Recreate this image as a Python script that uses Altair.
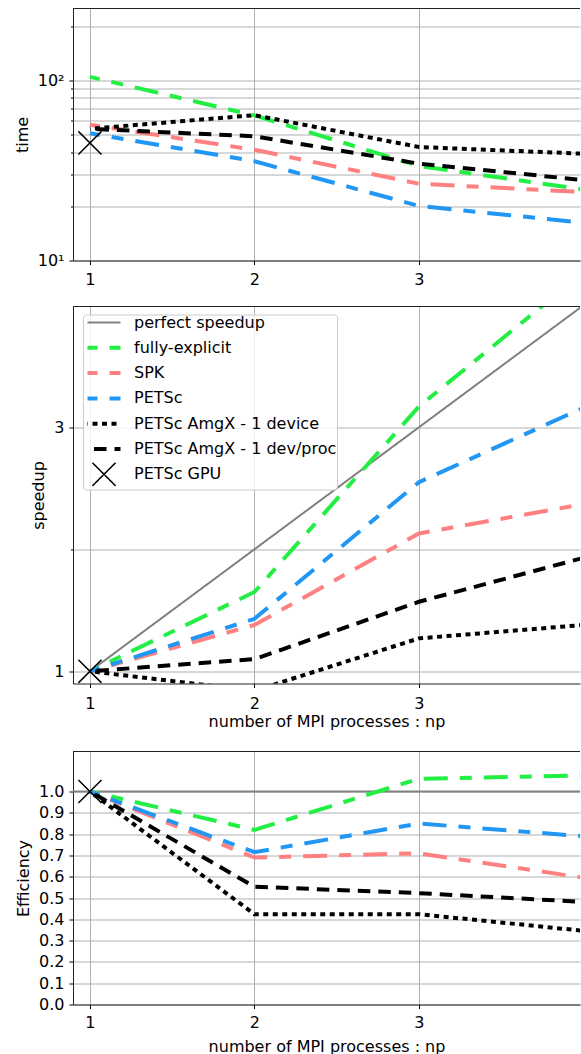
import altair as alt
import pandas as pd

# ---------------- data ----------------
np_vals = [1, 2, 3, 4]
series_names = ["perfect speedup", "fully-explicit", "SPK", "PETSc",
                "PETSc AmgX - 1 device", "PETSc AmgX - 1 dev/proc", "PETSc GPU"]
line_series = series_names[1:6]
series_colors = ["#808080", "#22ee44", "#ff8080", "#2196f3", "#000000", "#000000", "#000000"]

time_fully_explicit = [104.8, 64.0, 33.5, 24.8]
time_spk = [56.8, 41.2, 26.7, 24.0]
time_petsc = [50.9, 35.6, 20.1, 16.2]
time_amgx_device = [53.9, 64.2, 42.7, 39.2]
time_amgx_devproc = [53.9, 49.0, 34.5, 28.0]

speedup_fully_explicit = [1.0, 1.65, 3.17, 4.27]
speedup_spk = [1.0, 1.38, 2.13, 2.37]
speedup_petsc = [1.0, 1.43, 2.55, 3.16]
speedup_amgx_device = [1.0, 0.84, 1.27, 1.38]
speedup_amgx_devproc = [1.0, 1.10, 1.57, 1.93]
perfect_speedup = [1, 2, 3, 4]

eff_fully_explicit = [1.0, 0.82, 1.06, 1.075]
eff_spk = [1.0, 0.69, 0.71, 0.595]
eff_petsc = [1.0, 0.715, 0.85, 0.79]
eff_amgx_device = [1.0, 0.424, 0.424, 0.346]
eff_amgx_devproc = [1.0, 0.553, 0.523, 0.482]
eff_reference = [1.0]

gpu_np = [1]
time_gpu = [45.0]
speedup_gpu = [1.0]
eff_gpu = [1.0]

x_ticks = [1, 2, 3]
time_ticks = [10, 20, 30, 40, 50, 60, 70, 80, 90, 100, 200]
speedup_ticks = [1, 2, 3]
eff_ticks = [0.0, 0.1, 0.2, 0.3, 0.4, 0.5, 0.6, 0.7, 0.8, 0.9, 1.0]

# ---------------- styles ----------------
colored_dash = [24, 12, 12, 12]
series_dashes = [[1, 0], colored_dash, colored_dash, colored_dash, [5, 4.5], [12.5, 8], [1, 0]]
# legend glyphs: a horizontal stroke (with invisible zero-length points that only even out row heights)
thin_line_shape = "M-1,0L1,0M0,-0.639L0,-0.639M0,0.639L0,0.639"
thick_line_shape = "M-1,0L1,0M0,-0.397L0,-0.397M0,0.397L0,0.397"
x_shape = "M-0.7,-0.7L0.7,0.7M-0.7,0.7L0.7,-0.7"
series_shapes = [thin_line_shape] + [thick_line_shape] * 5 + [x_shape]
SYM_SIZE = 1089
FONT = "DejaVu Sans"
FS = 16
FRAME = "#222222"


def long_df(arrays):
    rows = []
    for name, vals in zip(line_series, arrays):
        for n, v in zip(np_vals, vals):
            rows.append({"series": name, "np": n, "value": v})
    return pd.DataFrame(rows)


def gpu_df(vals):
    return pd.DataFrame({"series": ["PETSc GPU"] * len(gpu_np), "np": gpu_np, "value": vals})


time_df = long_df([time_fully_explicit, time_spk, time_petsc, time_amgx_device, time_amgx_devproc])
speed_df = long_df([speedup_fully_explicit, speedup_spk, speedup_petsc,
                    speedup_amgx_device, speedup_amgx_devproc])
eff_df = long_df([eff_fully_explicit, eff_spk, eff_petsc, eff_amgx_device, eff_amgx_devproc])
perfect_df = pd.DataFrame({"series": ["perfect speedup"] * 4, "np": np_vals, "value": perfect_speedup})
ref_df = pd.DataFrame({"value": eff_reference})

PX_PER_UNIT = 164.5
WIDTH = 507
XDOM = [0.897, 0.897 + WIDTH / PX_PER_UNIT]


def x_enc(title, label_pad, title_pad):
    if title is None:
        ax = alt.Axis(values=x_ticks, format="d", title=None, labelPadding=label_pad)
    else:
        ax = alt.Axis(values=x_ticks, format="d", title=title, labelPadding=label_pad,
                      titlePadding=title_pad)
    return alt.X("np:Q", scale=alt.Scale(domain=XDOM, nice=False, zero=False), axis=ax)


def color_enc(legend):
    return alt.Color("series:N", scale=alt.Scale(domain=series_names, range=series_colors), legend=legend)


def dash_enc(legend):
    return alt.StrokeDash("series:N", scale=alt.Scale(domain=series_names, range=series_dashes), legend=legend)


def shape_enc(legend):
    return alt.Shape("series:N", scale=alt.Scale(domain=series_names, range=series_shapes), legend=legend)


def frame_top(extra_top=0.0):
    layers = [alt.Chart(ref_df).mark_rule(color=FRAME, strokeWidth=1).encode(
        x=alt.value(0), x2=alt.value(WIDTH), y=alt.value(0))]
    if extra_top:
        # invisible helper that only reserves a little room above the panel
        layers.append(alt.Chart(ref_df).mark_rule(strokeOpacity=0, strokeWidth=1).encode(
            x=alt.value(0), x2=alt.value(10), y=alt.value(-extra_top)))
    return layers


def build_panel(lines_df, gpu_vals, y_scale, y_axis, height, xtitle=None, label_pad=6, title_pad=4,
                legend=None, pre=None, extra_top=0.0):
    y = alt.Y("value:Q", scale=y_scale, axis=y_axis)
    xe = x_enc(xtitle, label_pad, title_pad)
    lines = alt.Chart(lines_df).mark_line(strokeWidth=4, strokeDashOffset=14, clip=True).encode(
        x=xe, y=y, color=color_enc(legend), strokeDash=dash_enc(legend))
    pts = alt.Chart(gpu_df(gpu_vals)).mark_point(filled=False, opacity=1, size=SYM_SIZE, strokeWidth=1.5,
                                                 clip=True).encode(
        x=xe, y=y, color=color_enc(legend), shape=shape_enc(legend))
    layers = []
    if pre is not None:
        layers.extend(pre(y, xe))
    layers.extend([lines, pts])
    layers.extend(frame_top(extra_top))
    return alt.layer(*layers).properties(width=WIDTH, height=height)


big_ticks = "datum.value == 10 || datum.value == 100"
time_axis = alt.Axis(values=time_ticks, title="time", labelPadding=5, titlePadding=7,
                     labelExpr="datum.value == 10 ? '10¹' : (datum.value == 100 ? '10²' : '')",
                     tickSize={"condition": {"test": big_ticks, "value": 4}, "value": 2.5})
time_panel = build_panel(time_df, time_gpu,
                         alt.Scale(type="log", domain=[10, 251.2], nice=False), time_axis, 252,
                         label_pad=7)

legend = alt.Legend(title=None, orient="none", legendX=10, legendY=8,
                    fillColor="rgba(255,255,255,0.8)", strokeColor="#cccccc", cornerRadius=3,
                    padding=0, labelFont=FONT, labelFontSize=FS, labelColor="black", labelLimit=400,
                    symbolOffset=13, labelOffset=22, rowPadding=-4.7, symbolSize=SYM_SIZE,
                    symbolDashOffset=14,
                    symbolStrokeWidth=alt.ExprRef(
                        expr="datum.value === 'perfect speedup' ? 2 : (datum.value === 'PETSc GPU' ? 1.5 : 4)"))

speed_axis = alt.Axis(values=speedup_ticks, title="speedup", labelPadding=5, titlePadding=7,
                      labelExpr="datum.value == 2 ? '' : datum.label",
                      tickSize={"condition": {"test": "datum.value == 2", "value": 2.5}, "value": 4})


def perfect_layer(y, xe):
    return [alt.Chart(perfect_df).mark_line(strokeWidth=2, clip=True).encode(
        x=xe, y=y, color=color_enc(legend), strokeDash=dash_enc(legend))]


speed_panel = build_panel(speed_df, speedup_gpu,
                          alt.Scale(domain=[0.9, 3.99], nice=False, zero=False), speed_axis, 377,
                          xtitle="number of MPI processes : np", label_pad=8, title_pad=2,
                          legend=legend, pre=perfect_layer)

eff_axis = alt.Axis(values=eff_ticks, title="Efficiency", format=".1f", labelPadding=5, titlePadding=7)


def ref_layer(y, xe):
    return [alt.Chart(ref_df).mark_rule(color="#808080", strokeWidth=2).encode(y=y)]


eff_panel = build_panel(eff_df, eff_gpu, alt.Scale(domain=[0, 1.188], nice=False), eff_axis, 253,
                        xtitle="number of MPI processes : np", label_pad=6, title_pad=8,
                        pre=ref_layer, extra_top=3.5)

chart = alt.vconcat(time_panel, speed_panel, eff_panel, spacing=18).resolve_scale(
    color="independent", strokeDash="independent", shape="independent"
).properties(
    padding={"left": 14, "top": 7.5, "right": 0, "bottom": 0}
).configure_view(
    stroke="transparent", strokeWidth=0
).configure_axis(
    labelFont=FONT, labelFontSize=FS, titleFont=FONT, titleFontSize=FS, titleFontWeight="normal",
    labelColor="black", titleColor="black", tickColor="black", domain=True, domainColor=FRAME,
    domainWidth=1, gridColor="#b0b0b0", gridWidth=1, tickSize=4
).configure_legend(
    labelFont=FONT, labelFontSize=FS
)

chart.save("out.html", embed_options={"renderer": "svg", "actions": False})
